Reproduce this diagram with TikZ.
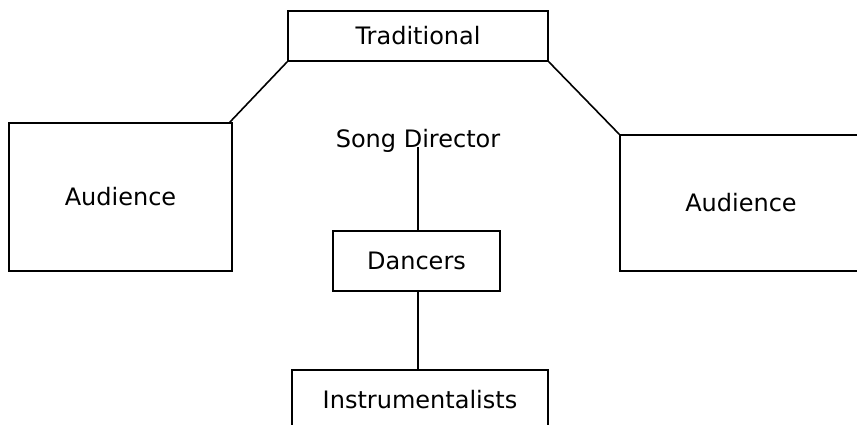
\documentclass[tikz,border=0pt]{standalone}
\usepackage{fontspec}
\setmainfont{DejaVu Sans}
\begin{document}
\begin{tikzpicture}[x=1pt,y=-1pt,
  box/.style={draw, line width=1.6pt, inner sep=0pt, font=\fontsize{24}{28}\selectfont},
  lbl/.style={inner sep=0pt, font=\fontsize{24}{28}\selectfont},
  conn/.style={line width=1.6pt}]
\useasboundingbox (0,0) rectangle (857,424);
\clip (0,0) rectangle (857,424);
\node[box, minimum width=260pt, minimum height=50pt] (trad) at (418,36) {Traditional};
\node[box, minimum width=223pt, minimum height=148pt] (la) at (120.5,197) {Audience};
\node[box, minimum width=242pt, minimum height=136pt] (ra) at (741,203) {Audience};
\node[lbl, anchor=base] (sd) at (418,147) {Song Director};
\node[box, minimum width=167pt, minimum height=60pt] (dan) at (416.5,261) {Dancers};
\node[box, minimum width=256pt, minimum height=60pt] (ins) at (420,400) {Instrumentalists};
\coordinate (lac) at ([xshift=-3pt]la.north east);
\draw[conn] (trad.south west) -- (lac);
\draw[conn] (trad.south east) -- (ra.north west);
\coordinate (sdb) at (418,147);
\draw[conn] (sdb) -- (sdb |- dan.north);
\draw[conn] (dan.south -| sdb) -- (ins.north -| sdb);
\end{tikzpicture}
\end{document}
